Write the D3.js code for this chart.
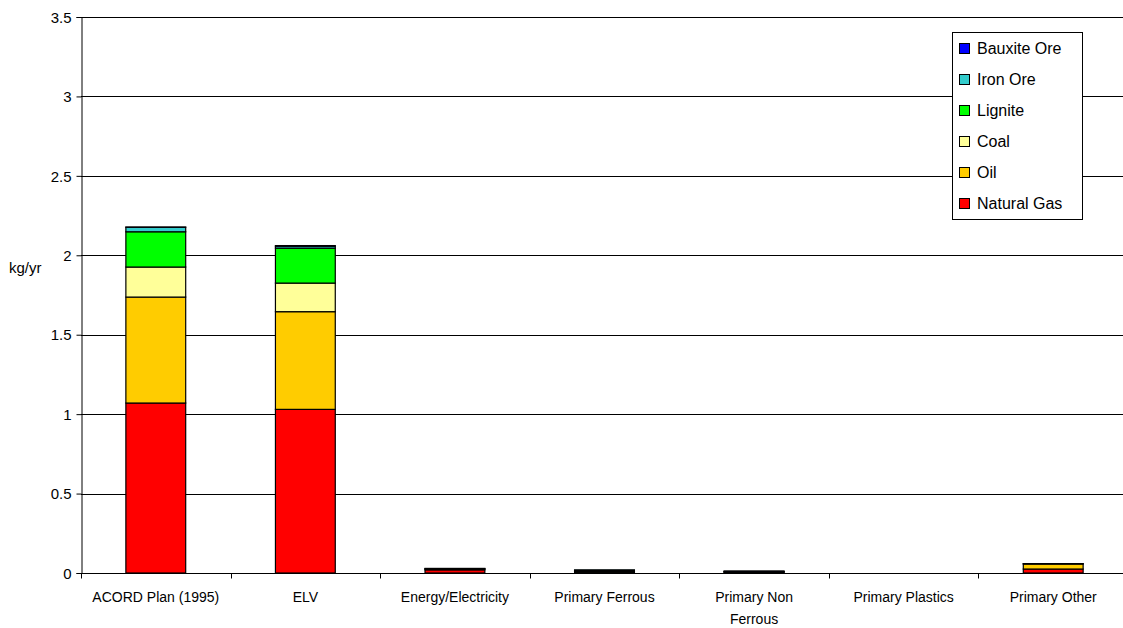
<!DOCTYPE html>
<html><head><meta charset="utf-8">
<script src="https://cdn.jsdelivr.net/npm/d3@7"></script>
<style>body{margin:0;background:#fff;overflow:hidden}svg{display:block}text{font-family:"Liberation Sans",Arial,sans-serif;fill:#000}</style>
</head><body><svg id="c" width="1123" height="628"></svg>
<script>
const categories = ["ACORD Plan (1995)", "ELV", "Energy/Electricity", "Primary Ferrous", "Primary Non Ferrous", "Primary Plastics", "Primary Other"];
const seriesNames = ["Natural Gas", "Oil", "Coal", "Lignite", "Iron Ore", "Bauxite Ore"];
const naturalGas = [1.07, 1.03, 0.02, 0.006, 0.004, 0, 0.025];
const oil        = [0.667, 0.615, 0.005, 0.004, 0.003, 0, 0.032];
const coal       = [0.189, 0.18, 0.002, 0.003, 0.002, 0, 0.001];
const lignite    = [0.222, 0.22, 0.002, 0.002, 0.002, 0, 0.001];
const ironOre    = [0.028, 0.012, 0, 0.005, 0, 0, 0];
const bauxiteOre = [0.002, 0.004, 0, 0, 0.001, 0, 0];
const yTicks = [0, 0.5, 1, 1.5, 2, 2.5, 3, 3.5];
const yTickLabels = ["0", "0.5", "1", "1.5", "2", "2.5", "3", "3.5"];
const colors = ["#FF0000", "#FFCC00", "#FFFF99", "#00FF00", "#33CCCC", "#0000FF"];

const seriesValues = [naturalGas, oil, coal, lignite, ironOre, bauxiteOre];
const rows = categories.map((c, i) => {
  const r = {cat: c};
  seriesNames.forEach((s, j) => r[s] = seriesValues[j][i]);
  return r;
});

const svg = d3.select("#c");
const L = 81, R = 1128, T = 17, B = 573;
const x = d3.scaleBand().domain(categories).range([L, R]).paddingInner(0.6).paddingOuter(0.3);
const xb = d3.scaleBand().domain(categories).range([L, R]);
const y = d3.scaleLinear().domain([0, 3.5]).range([B, T]);

// gridlines
svg.append("g").selectAll("line").data(yTicks.filter(d => d > 0)).join("line")
  .attr("x1", L).attr("x2", R).attr("y1", d => Math.round(y(d)) + 0.5).attr("y2", d => Math.round(y(d)) + 0.5)
  .attr("stroke", "#000").attr("stroke-width", 1);

// bars
const stack = d3.stack().keys(seriesNames)(rows);
svg.append("g").selectAll("g").data(stack).join("g")
  .attr("fill", (d, i) => colors[i])
  .selectAll("rect").data(d => d).join("rect")
  .attr("x", d => x(d.data.cat))
  .attr("width", x.bandwidth())
  .attr("y", d => y(d[1]))
  .attr("height", d => Math.max(0, y(d[0]) - y(d[1])))
  .attr("stroke", "#000").attr("stroke-width", 1.2)
  .attr("display", d => (d[1] - d[0]) > 0 ? null : "none");

// y axis
const yAxis = d3.axisLeft(y).tickValues(yTicks).tickFormat((d, i) => yTickLabels[i]).tickSize(5).tickPadding(5);
const gy = svg.append("g").attr("transform", `translate(${L + 0.5},0)`).call(yAxis);
gy.select(".domain").attr("stroke", "#000");
gy.selectAll(".tick line").attr("stroke", "#000");
gy.selectAll("text").attr("font-size", 15).attr("font-family", "Liberation Sans, Arial, sans-serif").attr("dy", "0.35em");

// x axis
const gx = svg.append("g").attr("transform", `translate(0,${B + 0.5})`);
gx.append("line").attr("x1", L).attr("x2", R).attr("stroke", "#000");
gx.selectAll("line.t").data(categories.concat(["end"])).join("line").attr("class", "t")
  .attr("x1", (d, i) => Math.round(L + i * xb.step()) + 0.5).attr("x2", (d, i) => Math.round(L + i * xb.step()) + 0.5)
  .attr("y1", 0).attr("y2", 5).attr("stroke", "#000");
const wrapLabels = {"Primary Non Ferrous": ["Primary Non", "Ferrous"]};
gx.selectAll("text").data(categories).join("text")
  .attr("x", d => xb(d) + xb.bandwidth() / 2)
  .attr("y", 28)
  .attr("text-anchor", "middle")
  .attr("font-size", 14)
  .each(function(d) {
    const lines = wrapLabels[d] || [d];
    d3.select(this).selectAll("tspan").data(lines).join("tspan")
      .attr("x", xb(d) + xb.bandwidth() / 2)
      .attr("dy", (l, i) => i === 0 ? 0 : 22)
      .text(l => l);
  });

// y label
svg.append("text").attr("x", 9).attr("y", 273).attr("font-size", 15).text("kg/yr");

// legend
const lg = svg.append("g");
lg.append("rect").attr("x", 952.5).attr("y", 32.5).attr("width", 130).attr("height", 187)
  .attr("fill", "#fff").attr("stroke", "#000");
const legendOrder = seriesNames.slice().reverse();
const legendColors = colors.slice().reverse();
const li = lg.selectAll("g").data(legendOrder).join("g")
  .attr("transform", (d, i) => `translate(0,${48 + i * 31})`);
li.append("rect").attr("x", 959.5).attr("y", -4.5).attr("width", 10).attr("height", 10)
  .attr("fill", (d, i) => legendColors[i]).attr("stroke", "#000");
li.append("text").attr("x", 977).attr("y", 0).attr("dy", "0.35em").attr("font-size", 16).text(d => d);
</script></body></html>
